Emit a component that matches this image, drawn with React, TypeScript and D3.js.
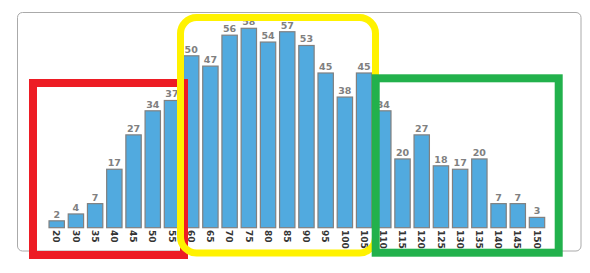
import React from "react";
import * as d3 from "d3";

const categories = ["20","30","35","40","45","50","55","60","65","70","75","80","85","90","95","100","105","110","115","120","125","130","135","140","145","150"];
const values = [2,4,7,17,27,34,37,50,47,56,58,54,57,53,45,38,45,34,20,27,18,17,20,7,7,3];

export default function App() {
  const W = 590, H = 273;
  const x = d3.scaleBand<string>().domain(categories).range([47.1, 546.6]).paddingInner(0.2).paddingOuter(0.1);
  const y = d3.scaleLinear().domain([0, 58]).range([227.7, 28.3]);
  const bw = x.bandwidth();
  return (
    <svg width={W} height={H} style={{ position: "absolute", left: 0, top: 0 }}>
      <rect x={0} y={0} width={W} height={H} fill="#fff" />
      <rect x={17.5} y={12.5} width={563.5} height={238.5} rx={5} fill="none" stroke="#aaaaaa" strokeWidth={1} />
      {categories.map((c, i) => (
        <g key={c}>
          <rect x={x(c)!} y={y(values[i])} width={bw} height={y(0) - y(values[i])} fill="#51aadf" stroke="#808080" strokeWidth={1.2} />
          <text x={x(c)! + bw / 2} y={y(values[i]) - 3} textAnchor="middle" fontFamily="DejaVu Sans" fontWeight="bold" fontSize={9.5} fill="#808080">{values[i]}</text>
          <text transform={`translate(${x(c)! + bw / 2 - 3.3},${230}) rotate(90)`} x={0} y={0} textAnchor="start" fontFamily="DejaVu Sans" fontWeight="bold" fontSize={9} fill="#333">{c}</text>
        </g>
      ))}
      <rect x={33} y={83} width={151} height={172} fill="none" stroke="#ed1c24" strokeWidth={8} />
      <rect x={180.5} y={17.5} width={195} height={235.5} rx={16} fill="none" stroke="#fff200" strokeWidth={7} />
      <rect x={375.7} y={78.3} width={183} height={174.4} fill="none" stroke="#22b14c" strokeWidth={8} />
    </svg>
  );
}
